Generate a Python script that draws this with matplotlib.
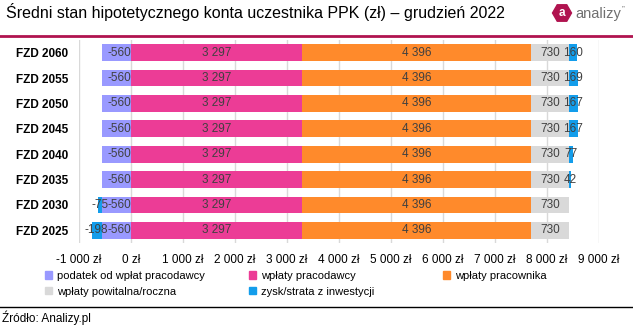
import numpy as np
import matplotlib.pyplot as plt
from matplotlib.patches import Patch, RegularPolygon
from matplotlib.ticker import FuncFormatter

plt.rcParams['font.family'] = ['Liberation Sans', 'DejaVu Sans']

# dane
fundusze = ["FZD 2060", "FZD 2055", "FZD 2050", "FZD 2045",
            "FZD 2040", "FZD 2035", "FZD 2030", "FZD 2025"]
podatek = [-560, -560, -560, -560, -560, -560, -560, -560]
pracodawca = [3297, 3297, 3297, 3297, 3297, 3297, 3297, 3297]
pracownik = [4396, 4396, 4396, 4396, 4396, 4396, 4396, 4396]
powitalna = [730, 730, 730, 730, 730, 730, 730, 730]
zysk = [160, 169, 167, 167, 77, 42, -75, -198]

kolory = {
    "podatek": "#9999FF",
    "pracodawca": "#EC3C96",
    "pracownik": "#FF8A2B",
    "powitalna": "#D9D9D9",
    "zysk": "#139DEB",
}
kolor_tekstu = "#404040"

fig = plt.figure(figsize=(6.33, 3.26), dpi=100)
ax = fig.add_axes([79 / 633, 1 - 243 / 326, 520 / 633, 203 / 326])

y = np.arange(len(fundusze))[::-1]
h = 0.66

podatek = np.array(podatek)
pracodawca = np.array(pracodawca)
pracownik = np.array(pracownik)
powitalna = np.array(powitalna)
zysk = np.array(zysk)

lewo_pracownik = pracodawca
lewo_powitalna = pracodawca + pracownik
suma_dod = pracodawca + pracownik + powitalna
lewo_zysk = np.where(zysk >= 0, suma_dod, podatek)

b1 = ax.barh(y, podatek, h, color=kolory["podatek"], zorder=2)
b2 = ax.barh(y, pracodawca, h, color=kolory["pracodawca"], zorder=2)
b3 = ax.barh(y, pracownik, h, left=lewo_pracownik, color=kolory["pracownik"], zorder=2)
b4 = ax.barh(y, powitalna, h, left=lewo_powitalna, color=kolory["powitalna"], zorder=2)
b5 = ax.barh(y, zysk, h, left=lewo_zysk, color=kolory["zysk"], zorder=2)


def fmt(v):
    return f"{v:,.0f}".replace(",", " ")


for bars in [b1, b2, b3, b4, b5]:
    for b in bars:
        w = b.get_width()
        yc = b.get_y() + b.get_height() / 2
        if bars is b1:
            # etykieta podatku dosunieta do zera
            ax.text(0, yc, fmt(w), ha="right", va="center", fontsize=8.5,
                    color=kolor_tekstu, zorder=3)
        else:
            xc = b.get_x() + w / 2
            ax.text(xc, yc, fmt(w), ha="center", va="center", fontsize=8.5,
                    color=kolor_tekstu, zorder=3)

ax.set_xlim(-1000, 9000)
ax.set_ylim(-0.5, len(fundusze) - 0.5)
ax.set_xticks(np.arange(-1000, 9001, 1000))
ax.xaxis.set_major_formatter(FuncFormatter(lambda v, p: fmt(v) + " zł"))
ax.set_yticks(y)
ax.set_yticklabels(fundusze, fontweight="bold", fontsize=8.5, color="#000000")
ax.tick_params(axis="x", labelsize=8.5, length=0, pad=8, colors="#000000")
ax.tick_params(axis="y", length=0, pad=7.5)
ax.grid(axis="x", color="#D9D9D9", linewidth=1, zorder=0)
for s in ax.spines.values():
    s.set_visible(False)

# legenda w trzech kolumnach o stalej szerokosci
kolumny = [
    (45, [("podatek", "podatek od wpłat pracodawcy"),
          ("powitalna", "wpłaty powitalna/roczna")]),
    (249, [("pracodawca", "wpłaty pracodawcy"),
           ("zysk", "zysk/strata z inwestycji")]),
    (443, [("pracownik", "wpłaty pracownika")]),
]
for x0, pozycje in kolumny:
    uchwyty = [Patch(color=kolory[k], label=t) for k, t in pozycje]
    leg = fig.legend(handles=uchwyty, ncol=1, loc="upper left",
                     bbox_to_anchor=(x0 / 633, 1 - 271 / 326), frameon=False,
                     fontsize=8.0, handlelength=0.65, handleheight=0.65,
                     handletextpad=0.4, labelspacing=0.5, borderaxespad=0,
                     borderpad=0)

# tytul i linie
fig.text(6 / 633, 1 - 12 / 326, "Średni stan hipotetycznego konta uczestnika PPK (zł) – grudzień 2022",
         fontsize=11.5, ha="left", va="center", color="#000000")
fig.add_artist(plt.Line2D([0, 1], [1 - 36 / 326, 1 - 36 / 326], color="#B0134F",
                          linewidth=2, transform=fig.transFigure))
fig.add_artist(plt.Line2D([0, 1], [1 - 307 / 326, 1 - 307 / 326], color="#000000",
                          linewidth=1, transform=fig.transFigure))
fig.text(2 / 633, 1 - 318 / 326, "Źródło: Analizy.pl", fontsize=8.5,
         ha="left", va="center", color="#000000")

# logo (wspolrzedne w calach, zeby szesciokat nie byl rozciagniety)
logo = RegularPolygon((5.62, 3.26 - 0.13), numVertices=6, radius=0.095,
                      orientation=np.pi / 6, color="#B0134F",
                      transform=fig.dpi_scale_trans)
fig.add_artist(logo)
fig.text(562 / 633, 1 - 13 / 326, "a", fontsize=8.5, fontweight="bold",
         color="white", ha="center", va="center")
fig.text(575 / 633, 1 - 14 / 326, "analizy", fontsize=10.5, color="#707070",
         ha="left", va="center")
fig.text(622 / 633, 1 - 9 / 326, "\u201d", fontsize=6, color="#707070",
         ha="left", va="center")

fig.savefig("out.png", dpi=100)
